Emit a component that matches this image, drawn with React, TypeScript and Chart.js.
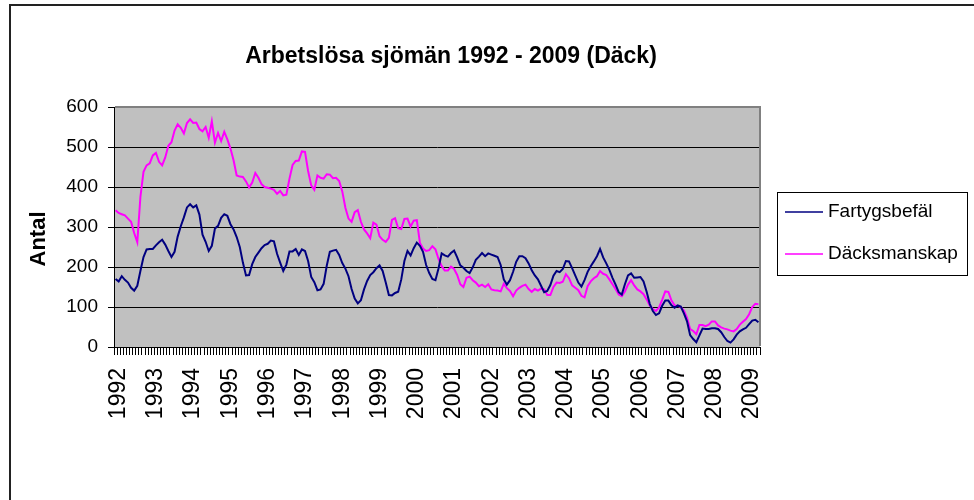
import React, { useEffect, useRef } from 'react';
import { Chart, registerables } from 'chart.js';

Chart.register(...registerables);

const TITLE = 'Arbetslösa sjömän 1992 - 2009 (Däck)';
const Y_TITLE = 'Antal';
const YEARS = [1992, 1993, 1994, 1995, 1996, 1997, 1998, 1999, 2000, 2001, 2002, 2003, 2004, 2005, 2006, 2007, 2008, 2009];
const MONTHS_IN_LAST_YEAR = 4;
const CATEGORIES: string[] = YEARS.flatMap((y, k) => {
  const n = k === YEARS.length - 1 ? MONTHS_IN_LAST_YEAR : 12;
  return Array.from({ length: n }, (_, m) => `${y}-${String(m + 1).padStart(2, '0')}`);
});
const Y_TICKS = [0, 100, 200, 300, 400, 500, 600];

const SERIES_NAMES = ['Fartygsbefäl', 'Däcksmanskap'];

const FARTYGSBEFAL = [
  170, 164, 177, 168, 161, 148, 141, 153, 190, 225, 244, 245,
  245, 254, 262, 268, 256, 240, 225, 238, 276, 302, 324, 349,
  357, 349, 354, 331, 281, 263, 240, 253, 296, 303, 323, 332,
  328, 307, 294, 275, 250, 211, 179, 180, 207, 225, 236, 247,
  255, 258, 266, 264, 233, 211, 190, 206, 239, 239, 245, 230,
  244, 240, 215, 175, 162, 142, 144, 158, 203, 238, 241, 243,
  230, 210, 196, 177, 145, 121, 109, 117, 144, 165, 180, 187,
  197, 204, 190, 161, 130, 129, 135, 138, 169, 215, 240, 229,
  247, 261, 253, 238, 205, 185, 170, 167, 197, 234, 229, 226,
  235, 241, 224, 204, 198, 190, 185, 199, 218, 226, 235, 227,
  234, 231, 228, 225, 205, 169, 156, 167, 188, 213, 227, 227,
  222, 209, 192, 179, 169, 153, 137, 140, 155, 178, 190, 187,
  195, 215, 214, 197, 179, 161, 151, 167, 188, 202, 214, 227,
  245, 224, 209, 193, 173, 156, 137, 131, 157, 179, 184, 173,
  174, 175, 164, 138, 108, 90, 80, 84, 103, 116, 116, 104,
  98, 104, 101, 84, 64, 30, 20, 12, 29, 46, 45, 45,
  47, 47, 45, 37, 25, 15, 11, 19, 31, 39, 44, 48,
  57, 66, 68, 62,
];

const DACKSMANSKAP = [
  342, 335, 332, 329, 321, 313, 285, 262, 375, 438, 454, 459,
  479, 485, 463, 454, 474, 503, 512, 541, 557, 548, 534, 560,
  569, 560, 561, 545, 539, 550, 523, 564, 511, 535, 515, 538,
  519, 496, 467, 429, 426, 425, 414, 399, 411, 435, 423, 407,
  400, 398, 396, 393, 383, 390, 379, 381, 421, 455, 465, 466,
  489, 488, 440, 404, 393, 429, 423, 421, 432, 431, 422, 423,
  415, 389, 348, 321, 313, 337, 342, 313, 294, 284, 272, 311,
  306, 277, 268, 263, 273, 318, 322, 297, 295, 320, 321, 301,
  316, 317, 260, 246, 240, 242, 252, 244, 220, 202, 191, 191,
  201, 195, 180, 157, 150, 173, 176, 167, 161, 152, 156, 150,
  157, 144, 142, 141, 139, 158, 147, 140, 127, 141, 148, 153,
  156, 145, 138, 145, 141, 146, 144, 130, 130, 150, 161, 160,
  163, 182, 172, 154, 148, 142, 128, 124, 152, 164, 172, 177,
  190, 183, 180, 169, 157, 145, 131, 127, 139, 156, 167, 154,
  144, 139, 132, 119, 104, 95, 90, 99, 118, 139, 138, 116,
  104, 103, 100, 91, 73, 45, 40, 32, 55, 55, 52, 56,
  64, 64, 54, 49, 46, 44, 41, 39, 45, 56, 63, 70,
  82, 100, 108, 107,
];

const FONT = "'Liberation Sans', Arial, Helvetica, sans-serif";

const decor = {
  id: 'decor',
  afterLayout(chart: any) {
    const t = chart.titleBlock;
    if (t) {
      t.left = 451 - 320;
      t.right = 451 + 320;
    }
    const ys = chart.scales.y;
    if (ys && !ys.__shifted) {
      const orig = ys.drawTitle.bind(ys);
      ys.drawTitle = () => {
        ys.ctx.save();
        ys.ctx.translate(-4, 12);
        orig();
        ys.ctx.restore();
      };
      ys.__shifted = true;
    }
  },
  beforeDraw(chart: any) {
    const { ctx, chartArea: a } = chart;
    ctx.save();
    ctx.fillStyle = '#ffffff';
    ctx.fillRect(0, 0, chart.width, chart.height);
    ctx.fillStyle = '#C0C0C0';
    ctx.fillRect(a.left, a.top, a.right - a.left, a.bottom - a.top);
    ctx.strokeStyle = '#222222';
    ctx.lineWidth = 2;
    ctx.strokeRect(10, 5, chart.width + 20, chart.height + 20);
    ctx.restore();
  },
  beforeDatasetsDraw(chart: any) {
    const { ctx, chartArea: a } = chart;
    ctx.save();
    ctx.strokeStyle = '#808080';
    ctx.lineWidth = 2;
    ctx.beginPath();
    ctx.moveTo(a.left + 1, a.top);
    ctx.lineTo(a.right, a.top);
    ctx.lineTo(a.right, a.bottom - 1);
    ctx.stroke();
    ctx.restore();
  },
  afterDraw(chart: any) {
    const { ctx } = chart;
    const lx = 777, ly = 192, lw = 190, lh = 83;
    ctx.save();
    ctx.strokeStyle = '#000';
    ctx.lineWidth = 1;
    ctx.strokeRect(lx + 0.5, ly + 0.5, lw, lh);
    ctx.font = `19px ${FONT}`;
    ctx.textBaseline = 'middle';
    ctx.textAlign = 'left';
    chart.data.datasets.forEach((ds: any, i: number) => {
      const cy = ly + 20 + i * 42;
      ctx.strokeStyle = ds.borderColor;
      ctx.lineWidth = 1.5;
      ctx.beginPath();
      ctx.moveTo(785, cy);
      ctx.lineTo(823, cy);
      ctx.stroke();
      ctx.fillStyle = '#000';
      ctx.fillText(ds.label, 828, cy);
    });
    ctx.restore();
  },
};

export default function App() {
  const ref = useRef<HTMLCanvasElement>(null);
  useEffect(() => {
    if (!ref.current) return;
    const chart = new Chart(ref.current, {
      type: 'line',
      data: {
        labels: CATEGORIES,
        datasets: [
          {
            label: SERIES_NAMES[0],
            data: FARTYGSBEFAL,
            borderColor: '#000080',
            backgroundColor: '#000080',
            borderWidth: 2,
            pointRadius: 0,
            tension: 0,
          },
          {
            label: SERIES_NAMES[1],
            data: DACKSMANSKAP,
            borderColor: '#FF00FF',
            backgroundColor: '#FF00FF',
            borderWidth: 2,
            pointRadius: 0,
            tension: 0,
          },
        ],
      },
      options: {
        responsive: false,
        maintainAspectRatio: false,
        animation: false,
        devicePixelRatio: 1,
        layout: { padding: { top: 0, left: 0, right: 214, bottom: 0 } },
        plugins: {
          legend: { display: false },
          tooltip: { enabled: false },
          title: {
            display: true,
            text: TITLE,
            color: '#000',
            font: { family: FONT, size: 23, weight: 'bold', lineHeight: 1.2 },
            padding: { top: 43.2, bottom: 36.2 },
          },
        },
        scales: {
          x: {
            type: 'category',
            offset: true,
            grid: {
              display: true,
              offset: true,
              drawOnChartArea: false,
              drawTicks: true,
              tickLength: 8,
              color: '#000',
              lineWidth: 1,
            },
            border: { display: true, color: '#000', width: 1 },
            ticks: {
              autoSkip: false,
              minRotation: 90,
              maxRotation: 90,
              padding: 13,
              labelOffset: 3,
              color: '#000',
              font: { family: FONT, size: 23 },
              callback: (_v: any, i: number) =>
                CATEGORIES[i].endsWith('-01') ? CATEGORIES[i].slice(0, 4) : '',
            },
            afterFit: (s: any) => {
              s.height = 153;
            },
          },
          y: {
            min: 0,
            max: 600,
            afterBuildTicks: (s: any) => {
              s.ticks = Y_TICKS.map((v) => ({ value: v }));
            },
            ticks: {
              padding: 10,
              color: '#000',
              font: { family: FONT, size: 19 },
            },
            grid: {
              color: (c: any) => (c.tick && c.tick.value === 600 ? 'rgba(0,0,0,0)' : '#000'),
              tickColor: '#000',
              tickLength: 6,
              lineWidth: 1,
            },
            border: { display: true, color: '#000', width: 1 },
            title: {
              display: true,
              text: Y_TITLE,
              color: '#000',
              font: { family: FONT, size: 22, weight: 'bold', lineHeight: 1.2 },
              padding: { top: 30, bottom: 0 },
            },
            afterFit: (s: any) => {
              s.width = 114;
            },
          },
        },
      },
      plugins: [decor],
    });
    return () => chart.destroy();
  }, []);
  return (
    <div style={{ position: 'absolute', left: 0, top: 0, width: 974, height: 500, background: '#fff' }}>
      <canvas ref={ref} width={974} height={500} style={{ display: 'block', width: 974, height: 500 }} />
    </div>
  );
}
